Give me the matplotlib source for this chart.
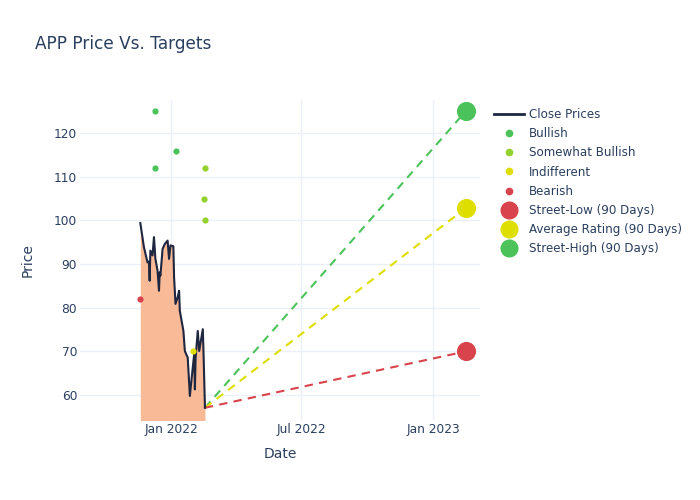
import matplotlib
matplotlib.use("Agg")
import matplotlib.pyplot as plt
import matplotlib.dates as mdates
from matplotlib.lines import Line2D
import pandas as pd

# ---- data ----
price_dates = ["2021-11-19", "2021-11-24", "2021-11-29", "2021-12-01", "2021-12-02",
               "2021-12-03", "2021-12-06", "2021-12-08", "2021-12-10", "2021-12-13",
               "2021-12-15", "2021-12-16", "2021-12-17", "2021-12-20", "2021-12-23",
               "2021-12-27", "2021-12-29", "2021-12-31", "2022-01-04", "2022-01-05",
               "2022-01-07", "2022-01-10", "2022-01-12", "2022-01-13", "2022-01-18",
               "2022-01-20", "2022-01-21", "2022-01-24", "2022-01-27", "2022-01-31",
               "2022-02-02", "2022-02-03", "2022-02-04", "2022-02-07", "2022-02-09",
               "2022-02-14", "2022-02-15", "2022-02-17"]
close_prices = [99.4, 93.9, 90.4, 90.6, 86.2, 93.1, 92.0, 96.2, 91.2, 88.5,
                83.9, 88.1, 87.4, 93.5, 94.6, 95.4, 91.2, 94.3, 94.1, 87.0,
                80.9, 82.4, 83.9, 79.3, 74.7, 70.1, 69.7, 68.6, 59.8, 66.3,
                69.4, 61.3, 68.6, 74.7, 70.1, 75.1, 69.7, 57.1]

bullish_dates = ["2021-12-09", "2021-12-09", "2022-01-08"]
bullish_targets = [125, 112, 116]
somewhat_dates = ["2022-02-17", "2022-02-15", "2022-02-17"]
somewhat_targets = [112, 105, 100]
indifferent_dates = ["2022-01-31"]
indifferent_targets = [70]
bearish_dates = ["2021-11-18"]
bearish_targets = [82]

target_date = "2023-02-15"
street_low = 70
average_rating = 102.8
street_high = 125

# ---- style ----
TEXT = "#2a3f5f"
GRID = "#EBF0F8"
C_BULL = "#4CC35A"
C_SBULL = "#93D12F"
C_IND = "#DEDE00"
C_BEAR = "#D9434B"

plt.rcParams["font.family"] = ["DejaVu Sans"]

fig = plt.figure(figsize=(7, 5), dpi=100)
ax = fig.add_axes([80 / 700, 80 / 500, 400 / 700, 320 / 500])

pdates = pd.to_datetime(price_dates)
ax.fill_between(pdates, close_prices, 0, color="#F9B48C", alpha=0.9, linewidth=0, zorder=1)
ax.plot(pdates, close_prices, color="#1f2640", linewidth=1.5, zorder=3)

last_d = pdates[-1]
last_p = close_prices[-1]
td = pd.to_datetime(target_date)
for val, col in [(street_high, C_BULL), (average_rating, C_IND), (street_low, C_BEAR)]:
    ax.plot([last_d, td], [last_p, val], linestyle=(0, (4, 3)), color=col, linewidth=1.5, zorder=2)

ax.scatter(pd.to_datetime(bullish_dates), bullish_targets, s=20, color=C_BULL, zorder=4, linewidths=0)
ax.scatter(pd.to_datetime(somewhat_dates), somewhat_targets, s=20, color=C_SBULL, zorder=4, linewidths=0)
ax.scatter(pd.to_datetime(indifferent_dates), indifferent_targets, s=20, color=C_IND, zorder=4, linewidths=0)
ax.scatter(pd.to_datetime(bearish_dates), bearish_targets, s=20, color=C_BEAR, zorder=4, linewidths=0)

ax.scatter([td], [street_low], s=190, color=C_BEAR, zorder=5, linewidths=0)
ax.scatter([td], [average_rating], s=190, color=C_IND, zorder=5, linewidths=0)
ax.scatter([td], [street_high], s=190, color=C_BULL, zorder=5, linewidths=0)

ax.set_xlim(pd.Timestamp("2021-08-27"), pd.Timestamp("2023-03-07"))
ax.set_ylim(54.3, 127.6)
ax.xaxis.set_major_locator(mdates.MonthLocator(bymonth=[1, 7]))
ax.xaxis.set_major_formatter(mdates.DateFormatter("%b %Y"))
ax.set_yticks([60, 70, 80, 90, 100, 110, 120])

ax.grid(True, color=GRID, linewidth=1, zorder=0)
ax.set_axisbelow(True)
for s in ax.spines.values():
    s.set_visible(False)
ax.tick_params(axis="y", length=0, colors=TEXT, labelsize=8.8, pad=2)
ax.tick_params(axis="x", length=0, colors=TEXT, labelsize=8.8, pad=2)
ax.set_xlabel("Date", color=TEXT, fontsize=10, labelpad=8)
ax.set_ylabel("Price", color=TEXT, fontsize=10, labelpad=14)

fig.text(35 / 700, 1 - 44 / 500, "APP Price Vs. Targets", color=TEXT, fontsize=12.2, va="center", ha="left")

handles = [
    Line2D([], [], color="#1f2640", linewidth=2),
    Line2D([], [], marker="o", linestyle="", color=C_BULL, markersize=4.5),
    Line2D([], [], marker="o", linestyle="", color=C_SBULL, markersize=4.5),
    Line2D([], [], marker="o", linestyle="", color=C_IND, markersize=4.5),
    Line2D([], [], marker="o", linestyle="", color=C_BEAR, markersize=4.5),
    Line2D([], [], marker="o", linestyle="", color=C_BEAR, markersize=12),
    Line2D([], [], marker="o", linestyle="", color=C_IND, markersize=12),
    Line2D([], [], marker="o", linestyle="", color=C_BULL, markersize=12),
]
labels = ["Close Prices", "Bullish", "Somewhat Bullish", "Indifferent", "Bearish",
          "Street-Low (90 Days)", "Average Rating (90 Days)", "Street-High (90 Days)"]
leg = fig.legend(handles, labels, loc="upper left", bbox_to_anchor=(494 / 700, 1 - 108 / 500),
                 frameon=False, fontsize=8.6, labelcolor=TEXT, handlelength=2.5,
                 handletextpad=0.45, labelspacing=0.52, borderaxespad=0, borderpad=0)

fig.savefig("out.png", dpi=100, facecolor="white")
